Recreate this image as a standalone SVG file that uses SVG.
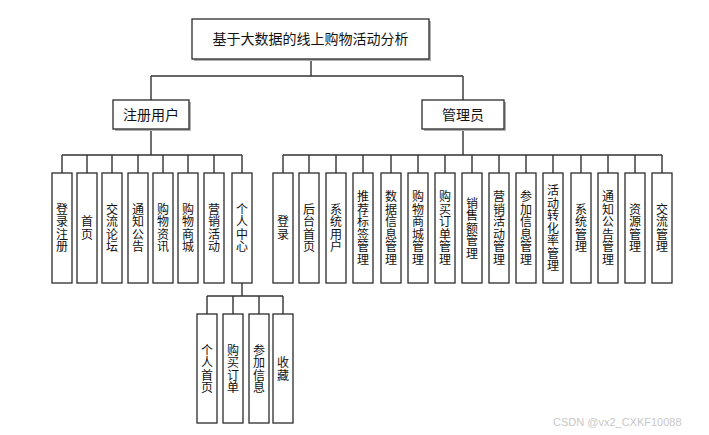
<svg xmlns="http://www.w3.org/2000/svg" width="709" height="435" viewBox="0 0 709 435">
<defs>
<style>
.bx{fill:#fff;stroke:#2b2b2b;stroke-width:1.3}
.sh{fill:#b0b0b0}
.ln{stroke:#333;stroke-width:1.4;fill:none}
.t{font-family:"Microsoft YaHei","Noto Sans CJK SC",sans-serif;fill:#111;text-anchor:middle}
.big{font-size:14px}
.v{font-size:12px;writing-mode:vertical-rl;letter-spacing:0.5px}
.wm{font-family:"Liberation Sans",Arial,sans-serif;font-size:11px;fill:#c8c8c8}
</style>
</defs>
<rect width="709" height="435" fill="#fff"/>
<g id="connectors">
<path class="ln" d="M311 59V76M151 76H463M151 76V100M463 76V100M151 129V155M463 129V155"/>
<path class="ln" d="M62 155H242M62 155V173M87 155V173M112 155V173M138 155V173M163 155V173M188 155V173M214 155V173M242 155V173"/>
<path class="ln" d="M283 155H662M283 155V173M309 155V173M336 155V173M363 155V173M391 155V173M418 155V173M445 155V173M472 155V173M499 155V173M526 155V173M553 155V173M581 155V173M608 155V173M635 155V173M662 155V173"/>
<path class="ln" d="M242 283V296M207 296H283M207 296V314M233 296V314M259 296V314M283 296V314"/>
</g>
<g id="root"><rect class="sh" x="194" y="21" width="237" height="40"/><rect class="bx" x="192" y="19" width="237" height="40"/><text class="t big" x="310.5" y="44">基于大数据的线上购物活动分析</text></g>
<g id="user"><rect class="sh" x="115" y="102" width="76" height="29"/><rect class="bx" x="113" y="100" width="76" height="29"/><text class="t big" x="151" y="119.5">注册用户</text></g>
<g id="admin"><rect class="sh" x="424" y="102" width="82" height="29"/><rect class="bx" x="422" y="100" width="82" height="29"/><text class="t big" x="463" y="119.5">管理员</text></g>
<g id="u1"><rect class="bx" x="52" y="173" width="20" height="110"/><text class="t v" x="62" y="228.25">登录注册</text></g>
<g id="u2"><rect class="bx" x="77" y="173" width="20" height="110"/><text class="t v" x="87" y="228.25">首页</text></g>
<g id="u3"><rect class="bx" x="102" y="173" width="20" height="110"/><text class="t v" x="112" y="228.25">交流论坛</text></g>
<g id="u4"><rect class="bx" x="128" y="173" width="20" height="110"/><text class="t v" x="138" y="228.25">通知公告</text></g>
<g id="u5"><rect class="bx" x="153" y="173" width="20" height="110"/><text class="t v" x="163" y="228.25">购物资讯</text></g>
<g id="u6"><rect class="bx" x="178" y="173" width="20" height="110"/><text class="t v" x="188" y="228.25">购物商城</text></g>
<g id="u7"><rect class="bx" x="204" y="173" width="20" height="110"/><text class="t v" x="214" y="228.25">营销活动</text></g>
<g id="u8"><rect class="bx" x="232" y="173" width="20" height="110"/><text class="t v" x="242" y="228.25">个人中心</text></g>
<g id="a1"><rect class="bx" x="273" y="173" width="20" height="110"/><text class="t v" x="283" y="228.25">登录</text></g>
<g id="a2"><rect class="bx" x="299" y="173" width="20" height="110"/><text class="t v" x="309" y="228.25">后台首页</text></g>
<g id="a3"><rect class="bx" x="326" y="173" width="20" height="110"/><text class="t v" x="336" y="228.25">系统用户</text></g>
<g id="a4"><rect class="bx" x="353" y="173" width="20" height="110"/><text class="t v" x="363" y="228.25">推荐标签管理</text></g>
<g id="a5"><rect class="bx" x="381" y="173" width="20" height="110"/><text class="t v" x="391" y="228.25">数据信息管理</text></g>
<g id="a6"><rect class="bx" x="408" y="173" width="20" height="110"/><text class="t v" x="418" y="228.25">购物商城管理</text></g>
<g id="a7"><rect class="bx" x="435" y="173" width="20" height="110"/><text class="t v" x="445" y="228.25">购买订单管理</text></g>
<g id="a8"><rect class="bx" x="462" y="173" width="20" height="110"/><text class="t v" x="472" y="228.25">销售额管理</text></g>
<g id="a9"><rect class="bx" x="489" y="173" width="20" height="110"/><text class="t v" x="499" y="228.25">营销活动管理</text></g>
<g id="a10"><rect class="bx" x="516" y="173" width="20" height="110"/><text class="t v" x="526" y="228.25">参加信息管理</text></g>
<g id="a11"><rect class="bx" x="543" y="173" width="20" height="110"/><text class="t v" x="553" y="228.25">活动转化率管理</text></g>
<g id="a12"><rect class="bx" x="571" y="173" width="20" height="110"/><text class="t v" x="581" y="228.25">系统管理</text></g>
<g id="a13"><rect class="bx" x="598" y="173" width="20" height="110"/><text class="t v" x="608" y="228.25">通知公告管理</text></g>
<g id="a14"><rect class="bx" x="625" y="173" width="20" height="110"/><text class="t v" x="635" y="228.25">资源管理</text></g>
<g id="a15"><rect class="bx" x="652" y="173" width="20" height="110"/><text class="t v" x="662" y="228.25">交流管理</text></g>
<g id="p1"><rect class="bx" x="197" y="314" width="20" height="109"/><text class="t v" x="207" y="369">个人首页</text></g>
<g id="p2"><rect class="bx" x="223" y="314" width="20" height="109"/><text class="t v" x="233" y="369">购买订单</text></g>
<g id="p3"><rect class="bx" x="249" y="314" width="20" height="109"/><text class="t v" x="259" y="369">参加信息</text></g>
<g id="p4"><rect class="bx" x="273" y="314" width="20" height="109"/><text class="t v" x="283" y="369">收藏</text></g>
<text class="wm" x="553" y="426">CSDN @vx2_CXKF10088</text>
</svg>
